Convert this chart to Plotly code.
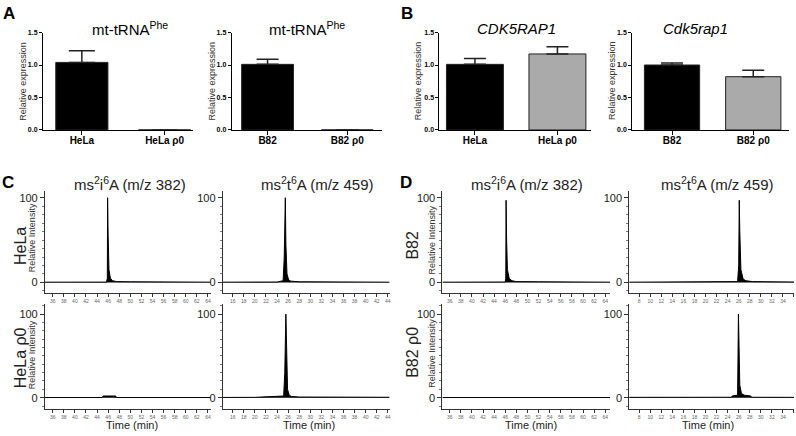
import plotly.graph_objects as go

W, H = 796, 436

# ---------------- Data: bar panels ----------------
a1_cats = ["HeLa", "HeLa ρ0"]
a1_vals = [1.04, 0.0]
a1_err = [0.18, 0.0]

a2_cats = ["B82", "B82 ρ0"]
a2_vals = [1.01, 0.0]
a2_err = [0.08, 0.0]

b1_cats = ["HeLa", "HeLa ρ0"]
b1_vals = [1.01, 1.17]
b1_err = [0.09, 0.11]

b2_cats = ["B82", "B82 ρ0"]
b2_vals = [1.00, 0.82]
b2_err = [0.03, 0.10]

bar_ticks = [0, 0.5, 1.0, 1.5]
bar_ticktext = ["0.0", "0.5", "1.0", "1.5"]

# ---------------- Data: chromatograms (time in min, relative intensity) ----------------
c_hela_i6a_t = [34.6, 40.0, 45.7, 45.85, 45.9, 46.0, 46.15, 46.4, 46.8, 47.5, 50.0, 53.0, 57.0, 64.5]
c_hela_i6a_y = [0.3, 0.3, 0.4, 5, 100, 55, 15, 5, 2, 1, 0.8, 0.8, 0.5, 0.3]

c_hela_t6a_t = [14.2, 24.0, 25.1, 25.3, 25.5, 25.6, 25.8, 26.1, 26.5, 28.0, 44.3]
c_hela_t6a_y = [0.3, 0.5, 2, 30, 100, 45, 10, 3, 1.5, 0.8, 0.3]

c_rho_i6a_t = [34.6, 45.0, 45.05, 47.4, 47.45, 64.5]
c_rho_i6a_y = [0.2, 0.2, 2.0, 2.0, 0.2, 0.2]

c_rho_t6a_t = [14.2, 20.0, 25.2, 25.4, 25.6, 25.7, 25.9, 26.2, 26.6, 28.0, 44.3]
c_rho_t6a_y = [0.3, 0.4, 2, 30, 100, 50, 10, 3, 1.5, 0.8, 0.5]

d_b82_i6a_t = [34.7, 44.0, 46.0, 46.1, 46.15, 46.25, 46.4, 46.7, 47.2, 48.0, 52.0, 64.9]
d_b82_i6a_y = [0.3, 0.5, 0.5, 5, 97, 50, 15, 5, 2, 1, 0.8, 0.3]

d_b82_t6a_t = [6.2, 15.0, 25.8, 26.0, 26.1, 26.2, 26.4, 26.8, 27.3, 28.5, 36.0]
d_b82_t6a_y = [0.3, 0.5, 1, 20, 97, 60, 15, 4, 2, 1, 0.5]

d_rho_i6a_t = [34.7, 46.0, 46.05, 50.0, 50.05, 64.9]
d_rho_i6a_y = [0.2, 0.2, 0.8, 0.8, 0.2, 0.2]

d_rho_t6a_t = [6.2, 24.7, 24.8, 25.8, 25.95, 26.05, 26.2, 26.5, 27.0, 28.2, 28.3, 36.0]
d_rho_t6a_y = [0.4, 0.5, 2, 3, 100, 60, 15, 5, 3, 2, 0.5, 0.4]

chrom_yticks = [0, 100]


def fx(px):
    return px / W


def fy(px):
    return 1 - px / H


fig = go.Figure()
layout = dict(
    width=W, height=H, autosize=False,
    margin=dict(l=0, r=0, t=0, b=0),
    paper_bgcolor="white", plot_bgcolor="white",
    showlegend=False,
    font=dict(family="Arial, Liberation Sans, sans-serif", color="black"),
)
annotations = []

# ---------------- Bar panels ----------------
bar_specs = [
    (a1_cats, a1_vals, a1_err, 43, 193, [-0.47, 1.34], 0.63, ["black", "black"], 13),
    (a2_cats, a2_vals, a2_err, 232, 382, [-0.45, 1.43], 0.65, ["black", "black"], 11),
    (b1_cats, b1_vals, b1_err, 440, 592, [-0.43, 1.41], 0.69, ["black", "#aaaaaa"], 11),
    (b2_cats, b2_vals, b2_err, 633, 790, [-0.49, 1.44], 0.68, ["black", "#aaaaaa"], 11),
]
bar_top, bar_bot = 29, 128
for i, (cats, vals, errs, x0, x1, xr, bw, cols, capw) in enumerate(bar_specs):
    k = i + 1
    sfx = "" if k == 1 else str(k)
    fig.add_trace(go.Bar(
        x=cats, y=vals, width=bw,
        marker=dict(color=cols, line=dict(color="#222222", width=1)),
        error_y=dict(type="data", array=errs, arrayminus=[0] * len(errs), symmetric=False,
                     color="#222222", thickness=1.5, width=capw),
        xaxis="x" + sfx, yaxis="y" + sfx,
    ))
    layout["xaxis" + sfx] = dict(
        domain=[fx(x0), fx(x1)], anchor="y" + sfx, type="category", range=xr,
        showline=True, linecolor="black", linewidth=1, ticks="outside", ticklen=4,
        tickcolor="black", tickfont=dict(size=10, weight="bold"), ticklabelstandoff=-3,
        showgrid=False, zeroline=False,
    )
    layout["yaxis" + sfx] = dict(
        domain=[fy(bar_bot), fy(bar_top)], anchor="x" + sfx, range=[0, 1.5],
        tickvals=bar_ticks, ticktext=bar_ticktext, showline=True, linecolor="black",
        linewidth=1, ticks="outside", ticklen=3, tickcolor="black",
        tickfont=dict(size=7, weight="bold"), showgrid=False, zeroline=False,
    )

for txt, cx in [("mt-tRNA<sup>Phe</sup>", 130), ("mt-tRNA<sup>Phe</sup>", 307),
                ("<i>CDK5RAP1</i>", 517), ("<i>Cdk5rap1</i>", 696)]:
    annotations.append(dict(text=txt, x=fx(cx), y=fy(25), xref="paper", yref="paper",
                            showarrow=False, xanchor="center", yanchor="middle",
                            font=dict(size=15)))
for cx in [23, 212, 418, 613]:
    annotations.append(dict(text="Relative expression", x=fx(cx), y=fy(78), xref="paper",
                            yref="paper", showarrow=False, textangle=-90,
                            xanchor="center", yanchor="middle",
                            font=dict(size=9, color="#333333")))

# ---------------- Chromatogram panels ----------------
chrom_specs = [
    (c_hela_i6a_t, c_hela_i6a_y, 45, 211, [34.6, 64.5], 0),
    (c_hela_t6a_t, c_hela_t6a_y, 223, 390, [14.2, 44.3], 0),
    (d_b82_i6a_t, d_b82_i6a_y, 443, 611, [34.7, 64.9], 0),
    (d_b82_t6a_t, d_b82_t6a_y, 630, 795, [6.2, 36.0], 0),
    (c_rho_i6a_t, c_rho_i6a_y, 45, 211, [34.6, 64.5], 1),
    (c_rho_t6a_t, c_rho_t6a_y, 223, 390, [14.2, 44.3], 1),
    (d_rho_i6a_t, d_rho_i6a_y, 443, 611, [34.7, 64.9], 1),
    (d_rho_t6a_t, d_rho_t6a_y, 630, 795, [6.2, 36.0], 1),
]
rows = [(190, 294, [-12.8, 108]), (305, 412, [-14, 112])]
for j, (t, y, x0, x1, xr, r) in enumerate(chrom_specs):
    k = j + 5
    sfx = str(k)
    top, bot, yr = rows[r]
    fig.add_trace(go.Scatter(
        x=t, y=y, mode="lines", line=dict(color="black", width=1),
        fill="tozeroy", fillcolor="black",
        xaxis="x" + sfx, yaxis="y" + sfx,
    ))
    layout["xaxis" + sfx] = dict(
        domain=[fx(x0), fx(x1)], anchor="y" + sfx, range=xr,
        showline=True, linecolor="#333333", linewidth=1, ticks="outside", ticklen=3,
        tickcolor="#333333", dtick=2, tick0=0, tickfont=dict(size=5, color="#666666"),
        showgrid=False, zeroline=False,
    )
    layout["yaxis" + sfx] = dict(
        domain=[fy(bot), fy(top)], anchor="x" + sfx, range=yr,
        tickvals=chrom_yticks, showline=True, linecolor="#333333", linewidth=1,
        ticks="outside", ticklen=4, tickcolor="#333333", tickfont=dict(size=11, color="#222222"),
        minor=dict(dtick=10, tick0=0, ticks="outside", ticklen=2, tickcolor="#777777"),
        showgrid=False, zeroline=False,
    )

for txt, cx in [("ms<sup>2</sup>i<sup>6</sup>A (m/z 382)", 130),
                ("ms<sup>2</sup>t<sup>6</sup>A (m/z 459)", 318),
                ("ms<sup>2</sup>i<sup>6</sup>A (m/z 382)", 528),
                ("ms<sup>2</sup>t<sup>6</sup>A (m/z 459)", 718)]:
    annotations.append(dict(text=txt, x=fx(cx), y=fy(182), xref="paper", yref="paper",
                            showarrow=False, xanchor="center", yanchor="middle",
                            font=dict(size=15, color="#222222")))

for txt, cx, cy in [("HeLa", 20, 246), ("HeLa ρ0", 20, 359), ("B82", 413, 245), ("B82 ρ0", 413, 354)]:
    annotations.append(dict(text=txt, x=fx(cx), y=fy(cy), xref="paper", yref="paper",
                            showarrow=False, textangle=-90, xanchor="center", yanchor="middle",
                            font=dict(size=16, color="#222222")))
for cx, cy in [(32, 237), (32, 356), (433, 240), (433, 355)]:
    annotations.append(dict(text="Relative Intensity", x=fx(cx), y=fy(cy), xref="paper",
                            yref="paper", showarrow=False, textangle=-90,
                            xanchor="center", yanchor="middle",
                            font=dict(size=9, color="#333333")))
for cx in [132, 309, 532, 709]:
    annotations.append(dict(text="Time (min)", x=fx(cx), y=fy(428), xref="paper", yref="paper",
                            showarrow=False, xanchor="center", yanchor="middle",
                            font=dict(size=11, color="#222222")))

for txt, cx, cy in [("A", 9, 10), ("B", 408, 10), ("C", 8, 181), ("D", 407, 181)]:
    annotations.append(dict(text="<b>" + txt + "</b>", x=fx(cx), y=fy(cy), xref="paper",
                            yref="paper", showarrow=False, xanchor="center", yanchor="middle",
                            font=dict(size=17)))

layout["annotations"] = annotations
fig.update_layout(**layout)
fig.write_html("out.html", config={"displayModeBar": False},
               post_script="document.body.style.margin='0';document.body.style.padding='0';")
